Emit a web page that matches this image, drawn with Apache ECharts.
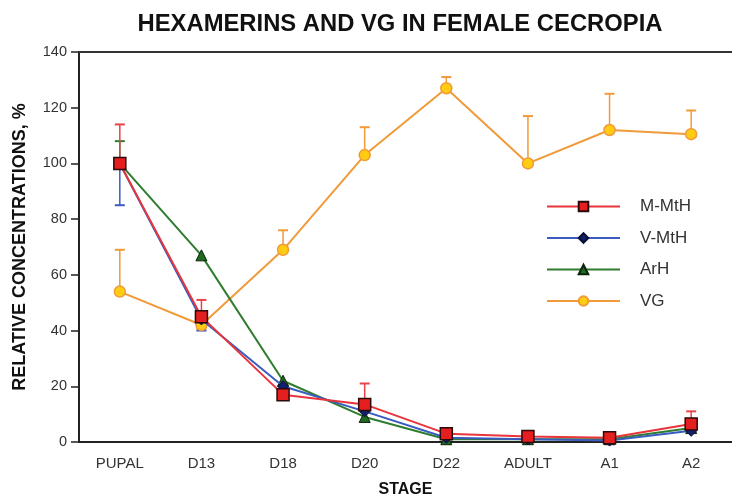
<!DOCTYPE html>
<html>
<head>
<meta charset="utf-8">
<script src="https://cdn.jsdelivr.net/npm/echarts@6/dist/echarts.min.js"></script>
<style>html,body{margin:0;padding:0;background:#fff}#c{width:732px;height:503px}</style>
</head>
<body>
<div id="c"></div>
<script>
var stages = ['PUPAL','D13','D18','D20','D22','ADULT','A1','A2'];
var yTicks = [0,20,40,60,80,100,120,140];
var mMtH = [100, 45, 17, 13.5, 3, 2, 1.5, 6.5];
var vMtH = [100, 44, 20, 11, 1.5, 1, 0.5, 4];
var arH  = [100, 67, 22, 9, 1, 1, 1, 5];
var vg   = [54, 42, 69, 103, 127, 100, 112, 110.5];
// error bar ends (null = none shown)
var mMtHErr = [114, 51, null, 21, null, null, null, 11];
var vMtHErr = [85, 40, null, null, null, null, null, null];
var arHErr  = [108, null, null, null, null, null, null, null];
var vgErr   = [69, 40.5, 76, 113, 131, 117, 125, 119];

var FONT = 'Liberation Sans, Arial, sans-serif';

function errData(vals, errs){
  var out = [];
  for (var i=0;i<vals.length;i++){ if (errs[i]!=null) out.push([i, vals[i], errs[i]]); }
  return out;
}
function errSeries(name, vals, errs, color){
  return {
    type:'custom', name: name + ' err', silent:true, z:1,
    data: errData(vals, errs),
    renderItem: function(params, api){
      var p0 = api.coord([api.value(0), api.value(1)]);
      var p1 = api.coord([api.value(0), api.value(2)]);
      var w = 5;
      return {type:'group', children:[
        {type:'line', shape:{x1:p0[0],y1:p0[1],x2:p1[0],y2:p1[1]}, style:{stroke:color, lineWidth:1.5}},
        {type:'line', shape:{x1:p1[0]-w,y1:p1[1],x2:p1[0]+w,y2:p1[1]}, style:{stroke:color, lineWidth:2}}
      ]};
    }
  };
}

var chart = echarts.init(document.getElementById('c'));
chart.setOption({
  animation:false,
  backgroundColor:'#fff',
  title:{text:'HEXAMERINS AND VG IN FEMALE CECROPIA', left:395, textAlign:'center', top:7,
    textStyle:{fontFamily:FONT, fontWeight:'bold', fontSize:23.8, color:'#111'}},
  legend:{
    orient:'vertical', left:541, top:193, itemWidth:73, itemHeight:12, itemGap:14.5,
    data:['M-MtH','V-MtH','ArH','VG'],
    textStyle:{fontFamily:FONT, fontSize:17, color:'#333', padding:[0,0,0,15]}
  },
  grid:{left:79, right:-1, top:52, bottom:59},
  xAxis:[{
    type:'category', data:stages, boundaryGap:true,
    name:'STAGE', nameLocation:'middle', nameGap:40,
    nameTextStyle:{fontFamily:FONT, fontWeight:'bold', fontSize:16, color:'#111'},
    axisLine:{lineStyle:{color:'#222', width:2}},
    axisTick:{alignWithLabel:true, length:7, lineStyle:{color:'#222', width:1.5}},
    axisLabel:{fontFamily:FONT, fontSize:15, color:'#333', margin:14}
  },{
    type:'category', data:stages, position:'top',
    axisLine:{lineStyle:{color:'#333', width:2}}, axisTick:{show:false}, axisLabel:{show:false}
  }],
  yAxis:{
    type:'value', min:0, max:140, interval:20,
    name:'RELATIVE CONCENTRATIONS, %', nameLocation:'middle', nameGap:50,
    nameTextStyle:{fontFamily:FONT, fontWeight:'bold', fontSize:18, color:'#111'},
    axisLine:{show:true, lineStyle:{color:'#222', width:2}},
    axisTick:{show:true, length:8, lineStyle:{color:'#222', width:1.5}},
    splitLine:{show:false},
    axisLabel:{fontFamily:FONT, fontSize:14.5, color:'#333', margin:12,
      formatter:function(v){ return yTicks.indexOf(v)>=0 ? String(v) : ''; }}
  },
  series:[
    errSeries('VG', vg, vgErr, '#f09a3a'),
    errSeries('ArH', arH, arHErr, '#2e7d2e'),
    errSeries('V-MtH', vMtH, vMtHErr, '#3a5cc0'),
    errSeries('M-MtH', mMtH, mMtHErr, '#e8434a'),
    {name:'VG', type:'line', data:vg, z:2, symbol:'circle', symbolSize:11,
      lineStyle:{color:'#f09a3a', width:2}, itemStyle:{color:'#ffcc11', borderColor:'#f09a3a', borderWidth:1.5}},
    {name:'ArH', type:'line', data:arH, z:3, symbol:'triangle', symbolSize:11,
      lineStyle:{color:'#2e7d2e', width:2}, itemStyle:{color:'#1f6a1f', borderColor:'#0b220b', borderWidth:1}},
    {name:'V-MtH', type:'line', data:vMtH, z:4, symbol:'diamond', symbolSize:11,
      lineStyle:{color:'#3a5cc0', width:2}, itemStyle:{color:'#12206a', borderColor:'#0a0f33', borderWidth:1}},
    {name:'M-MtH', type:'line', data:mMtH, z:5, symbol:'rect', symbolSize:12,
      lineStyle:{color:'#e8343a', width:2}, itemStyle:{color:'#e51f1f', borderColor:'#2a0a0a', borderWidth:1.5}}
  ]
});
</script>
</body>
</html>
